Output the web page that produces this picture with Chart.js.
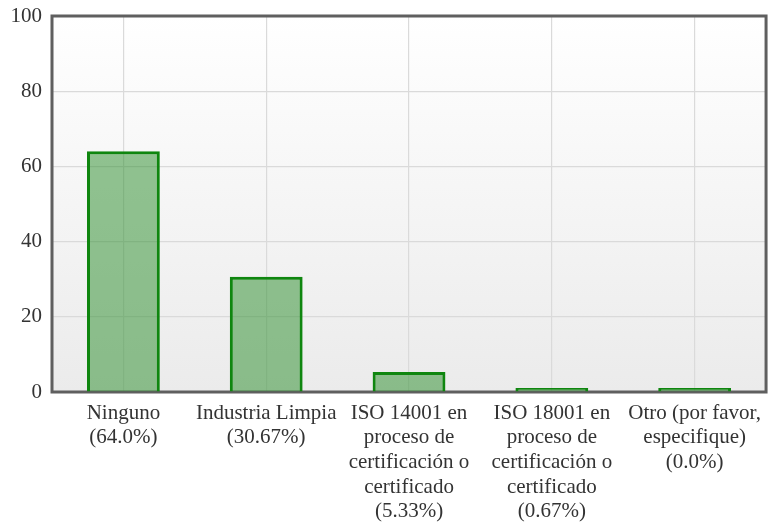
<!DOCTYPE html>
<html>
<head>
<meta charset="utf-8">
<script src="https://cdn.jsdelivr.net/npm/chart.js@4"></script>
<style>
  body { margin: 0; background: #fff; }
</style>
</head>
<body>
<canvas id="chart" width="770" height="525"></canvas>
<script>
var categories = [
    ["Ninguno", "(64.0%)"],
    ["Industria Limpia", "(30.67%)"],
    ["ISO 14001 en", "proceso de", "certificación o", "certificado", "(5.33%)"],
    ["ISO 18001 en", "proceso de", "certificación o", "certificado", "(0.67%)"],
    ["Otro (por favor,", "especifique)", "(0.0%)"]
];
var values = [64.0, 30.67, 5.33, 0.67, 0.0];
var yTicks = [0, 20, 40, 60, 80, 100];

// plot background gradient and dark frame
var frame = {
    id: 'frame',
    beforeDraw: function(chart) {
        var c = chart.ctx, a = chart.chartArea;
        var g = c.createLinearGradient(0, a.top, 0, a.bottom);
        g.addColorStop(0, '#ffffff');
        g.addColorStop(1, '#ebebeb');
        c.save();
        c.fillStyle = g;
        c.fillRect(a.left, a.top, a.right - a.left, a.bottom - a.top);
        c.restore();
    },
    beforeDatasetsDraw: function(chart) {
        var c = chart.ctx, a = chart.chartArea;
        c.save();
        c.strokeStyle = '#5f5f5f';
        c.lineWidth = 3;
        c.strokeRect(a.left, a.top, a.right - a.left, a.bottom - a.top);
        c.restore();
    }
};

var ctx = document.getElementById('chart').getContext('2d');
var chart = new Chart(ctx, {
    type: 'bar',
    data: {
        labels: categories,
        datasets: [{
            data: values,
            backgroundColor: 'rgba(40,140,40,0.5)',
            borderColor: '#0f860f',
            borderWidth: 3,
            borderSkipped: 'bottom',
            barPercentage: 0.51,
            categoryPercentage: 1.0,
            minBarLength: 4
        }]
    },
    options: {
        responsive: false,
        animation: false,
        layout: { padding: { top: 16, right: -3 } },
        plugins: {
            legend: { display: false },
            tooltip: { enabled: false }
        },
        scales: {
            x: {
                grid: { offset: false, color: '#dadada', lineWidth: 1.2, drawTicks: false },
                border: { display: false },
                ticks: {
                    color: '#333',
                    padding: 9,
                    maxRotation: 0,
                    autoSkip: false,
                    font: { family: 'Liberation Serif', size: 21, lineHeight: 1.17 }
                },
                afterFit: function(s) { s.height = 133; }
            },
            y: {
                min: 0,
                max: 100,
                afterBuildTicks: function(s) {
                    s.ticks = yTicks.map(function(v) { return { value: v }; });
                },
                grid: { color: '#dadada', lineWidth: 1.2, drawTicks: false },
                border: { display: false },
                ticks: {
                    color: '#333',
                    padding: 10,
                    font: { family: 'Liberation Serif', size: 21 }
                },
                afterFit: function(s) {
                    s.width = 52;
                    s.paddingTop = 0;
                    s.paddingBottom = 0;
                }
            }
        }
    },
    plugins: [frame]
});
</script>
</body>
</html>
